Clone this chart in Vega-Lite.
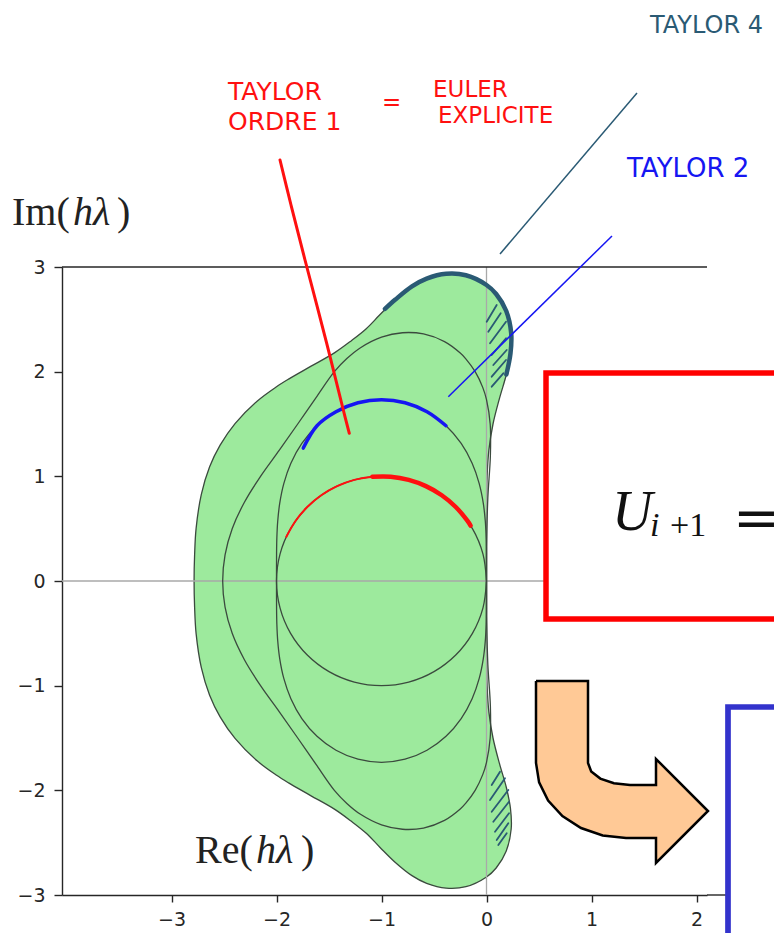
{
  "$schema": "https://vega.github.io/schema/vega-lite/v6.json",
  "width": 645,
  "height": 628,
  "autosize": {"type": "none"},
  "padding": {"left": 62, "top": 267, "right": 67, "bottom": 38},
  "background": "#ffffff",
  "config": {"view": {"stroke": null}},
  "datasets": {
    "taylor4": [
      {"k": 1, "x": 0, "y": 0}, {"k": 2, "x": 0.001, "y": 0.6}, {"k": 3, "x": 0.006, "y": 1.0}, {"k": 4, "x": 0.0225, "y": 1.25},
      {"k": 5, "x": 0.062, "y": 1.5}, {"k": 6, "x": 0.125, "y": 1.75}, {"k": 7, "x": 0.189, "y": 1.973}, {"k": 8, "x": 0.228, "y": 2.171},
      {"k": 9, "x": 0.235, "y": 2.37}, {"k": 10, "x": 0.187, "y": 2.582}, {"k": 11, "x": 0.092, "y": 2.742}, {"k": 12, "x": 0, "y": 2.828},
      {"k": 13, "x": -0.196, "y": 2.921}, {"k": 14, "x": -0.384, "y": 2.935}, {"k": 15, "x": -0.57, "y": 2.889}, {"k": 16, "x": -0.71, "y": 2.815},
      {"k": 17, "x": -0.868, "y": 2.689}, {"k": 18, "x": -1.016, "y": 2.543}, {"k": 19, "x": -1.148, "y": 2.408}, {"k": 20, "x": -1.29, "y": 2.294},
      {"k": 21, "x": -1.445, "y": 2.182}, {"k": 22, "x": -1.675, "y": 2.05}, {"k": 23, "x": -1.885, "y": 1.929}, {"k": 24, "x": -2.003, "y": 1.854},
      {"k": 25, "x": -2.185, "y": 1.718}, {"k": 26, "x": -2.395, "y": 1.504}, {"k": 27, "x": -2.537, "y": 1.298}, {"k": 28, "x": -2.637, "y": 1.091},
      {"k": 29, "x": -2.716, "y": 0.828}, {"k": 30, "x": -2.766, "y": 0.5}, {"k": 31, "x": -2.78, "y": 0.25}, {"k": 32, "x": -2.785, "y": 0},
      {"k": 33, "x": -2.78, "y": -0.25}, {"k": 34, "x": -2.766, "y": -0.5}, {"k": 35, "x": -2.716, "y": -0.828}, {"k": 36, "x": -2.637, "y": -1.091},
      {"k": 37, "x": -2.537, "y": -1.298}, {"k": 38, "x": -2.395, "y": -1.504}, {"k": 39, "x": -2.185, "y": -1.718}, {"k": 40, "x": -2.003, "y": -1.854},
      {"k": 41, "x": -1.885, "y": -1.929}, {"k": 42, "x": -1.675, "y": -2.05}, {"k": 43, "x": -1.445, "y": -2.182}, {"k": 44, "x": -1.29, "y": -2.294},
      {"k": 45, "x": -1.148, "y": -2.408}, {"k": 46, "x": -1.016, "y": -2.543}, {"k": 47, "x": -0.868, "y": -2.689}, {"k": 48, "x": -0.71, "y": -2.815},
      {"k": 49, "x": -0.57, "y": -2.889}, {"k": 50, "x": -0.384, "y": -2.935}, {"k": 51, "x": -0.196, "y": -2.921}, {"k": 52, "x": 0, "y": -2.828},
      {"k": 53, "x": 0.092, "y": -2.742}, {"k": 54, "x": 0.187, "y": -2.582}, {"k": 55, "x": 0.235, "y": -2.37}, {"k": 56, "x": 0.228, "y": -2.171},
      {"k": 57, "x": 0.189, "y": -1.973}, {"k": 58, "x": 0.125, "y": -1.75}, {"k": 59, "x": 0.062, "y": -1.5}, {"k": 60, "x": 0.0225, "y": -1.25},
      {"k": 61, "x": 0.006, "y": -1.0}, {"k": 62, "x": 0.001, "y": -0.6}, {"k": 63, "x": 0, "y": 0}
    ],
    "contours": [
      {"c": "t1", "k": 0, "x": 0, "y": 0}, {"c": "t1", "k": 1, "x": -0.0341, "y": 0.2588}, {"c": "t1", "k": 2, "x": -0.134, "y": 0.5},
      {"c": "t1", "k": 3, "x": -0.2929, "y": 0.7071}, {"c": "t1", "k": 4, "x": -0.5, "y": 0.866}, {"c": "t1", "k": 5, "x": -0.7412, "y": 0.9659},
      {"c": "t1", "k": 6, "x": -1, "y": 1}, {"c": "t1", "k": 7, "x": -1.2588, "y": 0.9659}, {"c": "t1", "k": 8, "x": -1.5, "y": 0.866},
      {"c": "t1", "k": 9, "x": -1.7071, "y": 0.7071}, {"c": "t1", "k": 10, "x": -1.866, "y": 0.5}, {"c": "t1", "k": 11, "x": -1.9659, "y": 0.2588},
      {"c": "t1", "k": 12, "x": -2, "y": 0}, {"c": "t1", "k": 13, "x": -1.9659, "y": -0.2588}, {"c": "t1", "k": 14, "x": -1.866, "y": -0.5},
      {"c": "t1", "k": 15, "x": -1.7071, "y": -0.7071}, {"c": "t1", "k": 16, "x": -1.5, "y": -0.866}, {"c": "t1", "k": 17, "x": -1.2588, "y": -0.9659},
      {"c": "t1", "k": 18, "x": -1, "y": -1}, {"c": "t1", "k": 19, "x": -0.7412, "y": -0.9659}, {"c": "t1", "k": 20, "x": -0.5, "y": -0.866},
      {"c": "t1", "k": 21, "x": -0.2929, "y": -0.7071}, {"c": "t1", "k": 22, "x": -0.134, "y": -0.5}, {"c": "t1", "k": 23, "x": -0.0341, "y": -0.2588},
      {"c": "t1", "k": 24, "x": 0, "y": 0},

      {"c": "t2", "k": 0, "x": 0, "y": 0}, {"c": "t2", "k": 1, "x": 0, "y": 0.1317}, {"c": "t2", "k": 2, "x": -0.0006, "y": 0.2678},
      {"c": "t2", "k": 3, "x": -0.0033, "y": 0.4128}, {"c": "t2", "k": 4, "x": -0.0115, "y": 0.5707}, {"c": "t2", "k": 5, "x": -0.0308, "y": 0.7437},
      {"c": "t2", "k": 6, "x": -0.0694, "y": 0.9306}, {"c": "t2", "k": 7, "x": -0.1369, "y": 1.1248}, {"c": "t2", "k": 8, "x": -0.2412, "y": 1.3142},
      {"c": "t2", "k": 9, "x": -0.3856, "y": 1.4834}, {"c": "t2", "k": 10, "x": -0.5667, "y": 1.617}, {"c": "t2", "k": 11, "x": -0.7758, "y": 1.7026},
      {"c": "t2", "k": 12, "x": -1, "y": 1.7321}, {"c": "t2", "k": 13, "x": -1.2242, "y": 1.7026}, {"c": "t2", "k": 14, "x": -1.4333, "y": 1.617},
      {"c": "t2", "k": 15, "x": -1.6144, "y": 1.4834}, {"c": "t2", "k": 16, "x": -1.7588, "y": 1.3142}, {"c": "t2", "k": 17, "x": -1.8631, "y": 1.1248},
      {"c": "t2", "k": 18, "x": -1.9306, "y": 0.9306}, {"c": "t2", "k": 19, "x": -1.9692, "y": 0.7437}, {"c": "t2", "k": 20, "x": -1.9885, "y": 0.5707},
      {"c": "t2", "k": 21, "x": -1.9967, "y": 0.4128}, {"c": "t2", "k": 22, "x": -1.9994, "y": 0.2678}, {"c": "t2", "k": 23, "x": -2, "y": 0.1317},
      {"c": "t2", "k": 24, "x": -2, "y": 0}, {"c": "t2", "k": 25, "x": -2, "y": -0.1317}, {"c": "t2", "k": 26, "x": -1.9994, "y": -0.2678},
      {"c": "t2", "k": 27, "x": -1.9967, "y": -0.4128}, {"c": "t2", "k": 28, "x": -1.9885, "y": -0.5707}, {"c": "t2", "k": 29, "x": -1.9692, "y": -0.7437},
      {"c": "t2", "k": 30, "x": -1.9306, "y": -0.9306}, {"c": "t2", "k": 31, "x": -1.8631, "y": -1.1248}, {"c": "t2", "k": 32, "x": -1.7588, "y": -1.3142},
      {"c": "t2", "k": 33, "x": -1.6144, "y": -1.4834}, {"c": "t2", "k": 34, "x": -1.4333, "y": -1.617}, {"c": "t2", "k": 35, "x": -1.2242, "y": -1.7026},
      {"c": "t2", "k": 36, "x": -1, "y": -1.7321}, {"c": "t2", "k": 37, "x": -0.7758, "y": -1.7026}, {"c": "t2", "k": 38, "x": -0.5667, "y": -1.617},
      {"c": "t2", "k": 39, "x": -0.3856, "y": -1.4834}, {"c": "t2", "k": 40, "x": -0.2412, "y": -1.3142}, {"c": "t2", "k": 41, "x": -0.1369, "y": -1.1248},
      {"c": "t2", "k": 42, "x": -0.0694, "y": -0.9306}, {"c": "t2", "k": 43, "x": -0.0308, "y": -0.7437}, {"c": "t2", "k": 44, "x": -0.0115, "y": -0.5707},
      {"c": "t2", "k": 45, "x": -0.0033, "y": -0.4128}, {"c": "t2", "k": 46, "x": -0.0006, "y": -0.2678}, {"c": "t2", "k": 47, "x": 0, "y": -0.1317},
      {"c": "t2", "k": 48, "x": 0, "y": 0},

      {"c": "t3", "k": 0, "x": 0, "y": 0}, {"c": "t3", "k": 1, "x": 0.002, "y": 0.4}, {"c": "t3", "k": 2, "x": 0.013, "y": 0.8},
      {"c": "t3", "k": 3, "x": 0.037, "y": 1.2}, {"c": "t3", "k": 4, "x": 0.035, "y": 1.5}, {"c": "t3", "k": 5, "x": 0, "y": 1.732},
      {"c": "t3", "k": 6, "x": -0.036, "y": 1.85}, {"c": "t3", "k": 7, "x": -0.108, "y": 2.0}, {"c": "t3", "k": 8, "x": -0.197, "y": 2.123},
      {"c": "t3", "k": 9, "x": -0.25, "y": 2.178}, {"c": "t3", "k": 10, "x": -0.4, "y": 2.287}, {"c": "t3", "k": 11, "x": -0.6, "y": 2.36},
      {"c": "t3", "k": 12, "x": -0.8, "y": 2.372}, {"c": "t3", "k": 13, "x": -1.0, "y": 2.33}, {"c": "t3", "k": 14, "x": -1.2, "y": 2.229},
      {"c": "t3", "k": 15, "x": -1.33, "y": 2.125}, {"c": "t3", "k": 16, "x": -1.449, "y": 2.0}, {"c": "t3", "k": 17, "x": -1.625, "y": 1.75},
      {"c": "t3", "k": 18, "x": -1.798, "y": 1.5}, {"c": "t3", "k": 19, "x": -1.973, "y": 1.25}, {"c": "t3", "k": 20, "x": -2.152, "y": 1.0},
      {"c": "t3", "k": 21, "x": -2.307, "y": 0.75}, {"c": "t3", "k": 22, "x": -2.422, "y": 0.5}, {"c": "t3", "k": 23, "x": -2.49, "y": 0.25},
      {"c": "t3", "k": 24, "x": -2.5127, "y": 0}, {"c": "t3", "k": 25, "x": -2.49, "y": -0.25}, {"c": "t3", "k": 26, "x": -2.422, "y": -0.5},
      {"c": "t3", "k": 27, "x": -2.307, "y": -0.75}, {"c": "t3", "k": 28, "x": -2.152, "y": -1.0}, {"c": "t3", "k": 29, "x": -1.973, "y": -1.25},
      {"c": "t3", "k": 30, "x": -1.798, "y": -1.5}, {"c": "t3", "k": 31, "x": -1.625, "y": -1.75}, {"c": "t3", "k": 32, "x": -1.449, "y": -2.0},
      {"c": "t3", "k": 33, "x": -1.33, "y": -2.125}, {"c": "t3", "k": 34, "x": -1.2, "y": -2.229}, {"c": "t3", "k": 35, "x": -1.0, "y": -2.33},
      {"c": "t3", "k": 36, "x": -0.8, "y": -2.372}, {"c": "t3", "k": 37, "x": -0.6, "y": -2.36}, {"c": "t3", "k": 38, "x": -0.4, "y": -2.287},
      {"c": "t3", "k": 39, "x": -0.25, "y": -2.178}, {"c": "t3", "k": 40, "x": -0.197, "y": -2.123}, {"c": "t3", "k": 41, "x": -0.108, "y": -2.0},
      {"c": "t3", "k": 42, "x": -0.036, "y": -1.85}, {"c": "t3", "k": 43, "x": 0, "y": -1.732}, {"c": "t3", "k": 44, "x": 0.035, "y": -1.5},
      {"c": "t3", "k": 45, "x": 0.037, "y": -1.2}, {"c": "t3", "k": 46, "x": 0.013, "y": -0.8}, {"c": "t3", "k": 47, "x": 0.002, "y": -0.4},
      {"c": "t3", "k": 48, "x": 0, "y": 0}
    ],
    "guides": [
      {"x": 0, "y": -3, "x2": 0, "y2": 3},
      {"x": -4.043, "y": 0, "x2": 2.1, "y2": 0}
    ],
    "spines": [
      {"x": -4.043, "y": 3, "x2": 2.1, "y2": 3},
      {"x": 2.1, "y": -3, "x2": 2.4, "y2": -3}
    ],
    "strokes": [
      {"s": "red-thin", "k": 0, "x": -1.9063, "y": 0.4226}, {"s": "red-thin", "k": 1, "x": -1.8192, "y": 0.5736},
      {"s": "red-thin", "k": 2, "x": -1.7071, "y": 0.7071}, {"s": "red-thin", "k": 3, "x": -1.5736, "y": 0.8192},
      {"s": "red-thin", "k": 4, "x": -1.4226, "y": 0.9063}, {"s": "red-thin", "k": 5, "x": -1.2588, "y": 0.9659},
      {"s": "red-thin", "k": 6, "x": -1.0872, "y": 0.9962},
      {"s": "red-thick", "k": 0, "x": -1.0872, "y": 0.9962}, {"s": "red-thick", "k": 1, "x": -0.9128, "y": 0.9962},
      {"s": "red-thick", "k": 2, "x": -0.7412, "y": 0.9659}, {"s": "red-thick", "k": 3, "x": -0.5774, "y": 0.9063},
      {"s": "red-thick", "k": 4, "x": -0.4264, "y": 0.8192}, {"s": "red-thick", "k": 5, "x": -0.2929, "y": 0.7071},
      {"s": "red-thick", "k": 6, "x": -0.1808, "y": 0.5736}, {"s": "red-thick", "k": 7, "x": -0.152, "y": 0.5299},
      {"s": "blue", "k": 0, "x": -0.3856, "y": 1.4834}, {"s": "blue", "k": 1, "x": -0.5667, "y": 1.617},
      {"s": "blue", "k": 2, "x": -0.7758, "y": 1.7026}, {"s": "blue", "k": 3, "x": -1, "y": 1.7321},
      {"s": "blue", "k": 4, "x": -1.2242, "y": 1.7026}, {"s": "blue", "k": 5, "x": -1.4333, "y": 1.617},
      {"s": "blue", "k": 6, "x": -1.6144, "y": 1.4834}, {"s": "blue", "k": 7, "x": -1.745, "y": 1.27},
      {"s": "teal", "k": 0, "x": 0.189, "y": 1.973}, {"s": "teal", "k": 1, "x": 0.228, "y": 2.171},
      {"s": "teal", "k": 2, "x": 0.235, "y": 2.37}, {"s": "teal", "k": 3, "x": 0.187, "y": 2.582},
      {"s": "teal", "k": 4, "x": 0.092, "y": 2.742}, {"s": "teal", "k": 5, "x": 0, "y": 2.828},
      {"s": "teal", "k": 6, "x": -0.196, "y": 2.921}, {"s": "teal", "k": 7, "x": -0.384, "y": 2.935},
      {"s": "teal", "k": 8, "x": -0.57, "y": 2.889}, {"s": "teal", "k": 9, "x": -0.71, "y": 2.815},
      {"s": "teal", "k": 10, "x": -0.868, "y": 2.689}, {"s": "teal", "k": 11, "x": -0.967, "y": 2.6},
      {"s": "pointer", "k": 0, "x": -1.9667, "y": 4.0223}, {"s": "pointer", "k": 1, "x": -1.8619, "y": 3.5923},
      {"s": "pointer", "k": 2, "x": -1.7286, "y": 3.0669}, {"s": "pointer", "k": 3, "x": -1.5219, "y": 2.271},
      {"s": "pointer", "k": 4, "x": -1.3638, "y": 1.6338}, {"s": "pointer", "k": 5, "x": -1.3067, "y": 1.4111}
    ],
    "hatch": [
      {"x": 0.0019, "y": 2.4774, "x2": 0.0971, "y2": 2.6366},
      {"x": 0.0171, "y": 2.3819, "x2": 0.1352, "y2": 2.5577},
      {"x": 0.0333, "y": 2.271, "x2": 0.1857, "y2": 2.4774},
      {"x": 0.0495, "y": 2.1592, "x2": 0.1857, "y2": 2.3188},
      {"x": 0.0648, "y": 2.0637, "x2": 0.1924, "y2": 2.207},
      {"x": 0.0495, "y": 1.9519, "x2": 0.1857, "y2": 2.1114},
      {"x": 0.0495, "y": 1.8564, "x2": 0.16, "y2": 1.9844},
      {"x": 0.0495, "y": -1.949, "x2": 0.1286, "y2": -1.8219},
      {"x": 0.0333, "y": -2.0924, "x2": 0.1762, "y2": -1.885},
      {"x": 0.0495, "y": -2.2041, "x2": 0.2076, "y2": -1.9968},
      {"x": 0.0648, "y": -2.2997, "x2": 0.2143, "y2": -2.1086},
      {"x": 0.081, "y": -2.3952, "x2": 0.2143, "y2": -2.2194},
      {"x": 0.0971, "y": -2.4745, "x2": 0.2076, "y2": -2.3149},
      {"x": 0.1124, "y": -2.5223, "x2": 0.1924, "y2": -2.4105}
    ],
    "pointers": [
      {"s": "teal", "x": 1.4333, "y": 4.6624, "x2": 0.1286, "y2": 3.1242},
      {"s": "blue", "x": 1.1952, "y": 3.2962, "x2": -0.3638, "y2": 1.7608}
    ],
    "arrow": [
      {"k": 1, "x": 0.4714, "y": -0.9554}, {"k": 2, "x": 0.9667, "y": -0.9554}, {"k": 3, "x": 0.9667, "y": -1.7389},
      {"k": 4, "x": 0.9971, "y": -1.8191}, {"k": 5, "x": 1.0838, "y": -1.8879}, {"k": 6, "x": 1.2133, "y": -1.9328},
      {"k": 7, "x": 1.3667, "y": -1.949}, {"k": 8, "x": 1.6143, "y": -1.949}, {"k": 9, "x": 1.6143, "y": -1.7006},
      {"k": 10, "x": 2.1095, "y": -2.1975}, {"k": 11, "x": 1.6143, "y": -2.6943}, {"k": 12, "x": 1.6143, "y": -2.4554},
      {"k": 13, "x": 1.3286, "y": -2.4554}, {"k": 14, "x": 1.1067, "y": -2.4306}, {"k": 15, "x": 0.9, "y": -2.3599},
      {"k": 16, "x": 0.7229, "y": -2.2452}, {"k": 17, "x": 0.5867, "y": -2.0971}, {"k": 18, "x": 0.501, "y": -1.9242},
      {"k": 19, "x": 0.4714, "y": -1.7389}, {"k": 20, "x": 0.4714, "y": -0.9554}
    ],
    "labels": [
      {"g": "math", "t": "U", "x": 1.1952, "y": 0.4873},
      {"g": "sub-i", "t": "i", "x": 1.5571, "y": 0.4252},
      {"g": "sub", "t": "+1", "x": 1.7476, "y": 0.4252},
      {"g": "eq", "t": "=", "x": 2.3476, "y": 0.4204},
      {"g": "ax", "t": "Im(", "x": -4.519, "y": 3.4013},
      {"g": "axi", "t": "hλ", "x": -3.9381, "y": 3.4013},
      {"g": "ax", "t": ")", "x": -3.519, "y": 3.4013},
      {"g": "ax", "t": "Re(", "x": -2.776, "y": -2.6943},
      {"g": "axi", "t": "hλ", "x": -2.1952, "y": -2.6943},
      {"g": "ax", "t": ")", "x": -1.7667, "y": -2.6943},
      {"g": "hw-teal", "t": "TAYLOR 4", "x": 1.5571, "y": 5.2356},
      {"g": "hw-red", "t": "TAYLOR", "x": -2.4619, "y": 4.5955},
      {"g": "hw-red", "t": "ORDRE 1", "x": -2.4619, "y": 4.3089},
      {"g": "hw-red-s", "t": "=", "x": -0.9952, "y": 4.5},
      {"g": "hw-red-s", "t": "EULER", "x": -0.5095, "y": 4.6242},
      {"g": "hw-red-s", "t": "EXPLICITE", "x": -0.4619, "y": 4.3758},
      {"g": "hw-blue", "t": "TAYLOR 2", "x": 1.3381, "y": 3.8599}
    ]
  },
  "encoding": {
    "x": {
      "field": "x", "type": "quantitative",
      "scale": {"domain": [-4.043, 2.1], "nice": false, "zero": false},
      "axis": {
        "values": [-3, -2, -1, 0, 1, 2], "format": "d", "title": null, "grid": false,
        "domainColor": "#262626", "domainWidth": 1.4, "tickColor": "#262626", "tickWidth": 1.4,
        "tickSize": 7, "labelPadding": 8, "labelFont": "DejaVu Sans", "labelFontSize": 19, "labelColor": "#262626"
      }
    },
    "y": {
      "field": "y", "type": "quantitative",
      "scale": {"domain": [-3, 3], "nice": false, "zero": false},
      "axis": {
        "values": [-3, -2, -1, 0, 1, 2, 3], "format": "d", "title": null, "grid": false,
        "domainColor": "#262626", "domainWidth": 1.4, "tickColor": "#262626", "tickWidth": 1.4,
        "tickSize": 8, "labelPadding": 9, "labelFont": "DejaVu Sans", "labelFontSize": 19, "labelColor": "#262626"
      }
    }
  },
  "layer": [
    {
      "data": {"name": "taylor4"},
      "mark": {"type": "line", "fill": "#9dea9d", "stroke": "#3b4a3e", "strokeWidth": 1.3, "interpolate": "catmull-rom"},
      "encoding": {"order": {"field": "k", "type": "quantitative"}}
    },
    {
      "data": {"name": "guides"},
      "mark": {"type": "rule", "stroke": "#a9a9a9", "strokeWidth": 1.3},
      "encoding": {"x2": {"field": "x2"}, "y2": {"field": "y2"}}
    },
    {
      "data": {"name": "contours"},
      "mark": {"type": "line", "stroke": "#3b4a3e", "strokeWidth": 1.3, "interpolate": "catmull-rom"},
      "encoding": {"detail": {"field": "c"}, "order": {"field": "k", "type": "quantitative"}}
    },
    {
      "data": {"name": "spines"},
      "mark": {"type": "rule", "stroke": "#262626", "strokeWidth": 1.4},
      "encoding": {"x2": {"field": "x2"}, "y2": {"field": "y2"}}
    },
    {
      "data": {"name": "hatch"},
      "mark": {"type": "rule", "stroke": "#2a5a74", "strokeWidth": 1.8, "strokeCap": "round"},
      "encoding": {"x2": {"field": "x2"}, "y2": {"field": "y2"}}
    },
    {
      "data": {"name": "strokes"},
      "transform": [{"filter": "datum.s === 'teal'"}],
      "mark": {"type": "line", "stroke": "#2a5a74", "strokeWidth": 4.5, "strokeCap": "round", "interpolate": "catmull-rom"},
      "encoding": {"order": {"field": "k", "type": "quantitative"}}
    },
    {
      "data": {"name": "strokes"},
      "transform": [{"filter": "datum.s === 'blue'"}],
      "mark": {"type": "line", "stroke": "#1616f2", "strokeWidth": 3.5, "strokeCap": "round", "interpolate": "catmull-rom"},
      "encoding": {"order": {"field": "k", "type": "quantitative"}}
    },
    {
      "data": {"name": "strokes"},
      "transform": [{"filter": "datum.s === 'red-thin'"}],
      "mark": {"type": "line", "stroke": "#ff1010", "strokeWidth": 2, "strokeCap": "round", "interpolate": "catmull-rom"},
      "encoding": {"order": {"field": "k", "type": "quantitative"}}
    },
    {
      "data": {"name": "strokes"},
      "transform": [{"filter": "datum.s === 'red-thick'"}],
      "mark": {"type": "line", "stroke": "#ff1010", "strokeWidth": 4.5, "strokeCap": "round", "interpolate": "catmull-rom"},
      "encoding": {"order": {"field": "k", "type": "quantitative"}}
    },
    {
      "data": {"name": "strokes"},
      "transform": [{"filter": "datum.s === 'pointer'"}],
      "mark": {"type": "line", "stroke": "#ff1010", "strokeWidth": 3, "strokeCap": "round", "interpolate": "catmull-rom"},
      "encoding": {"order": {"field": "k", "type": "quantitative"}}
    },
    {
      "data": {"name": "pointers"},
      "transform": [{"filter": "datum.s === 'teal'"}],
      "mark": {"type": "rule", "stroke": "#2a5a74", "strokeWidth": 1.5},
      "encoding": {"x2": {"field": "x2"}, "y2": {"field": "y2"}}
    },
    {
      "data": {"name": "pointers"},
      "transform": [{"filter": "datum.s === 'blue'"}],
      "mark": {"type": "rule", "stroke": "#1616f2", "strokeWidth": 1.5},
      "encoding": {"x2": {"field": "x2"}, "y2": {"field": "y2"}}
    },
    {
      "data": {"values": [{"x": 0.5667, "x2": 3.5, "y": 1.9873, "y2": -0.3631}]},
      "mark": {"type": "rect", "fill": "#ffffff", "stroke": "#ff0000", "strokeWidth": 5.5},
      "encoding": {"x2": {"field": "x2"}, "y2": {"field": "y2"}}
    },
    {
      "data": {"name": "arrow"},
      "mark": {"type": "line", "fill": "#ffc996", "stroke": "#000000", "strokeWidth": 2.5, "strokeJoin": "miter", "interpolate": "linear"},
      "encoding": {"order": {"field": "k", "type": "quantitative"}}
    },
    {
      "data": {"values": [{"x": 2.3, "x2": 5, "y": -1.2038, "y2": -6}]},
      "mark": {"type": "rect", "fill": "#ffffff", "stroke": "#3333cc", "strokeWidth": 5.7},
      "encoding": {"x2": {"field": "x2"}, "y2": {"field": "y2"}}
    },
    {
      "data": {"name": "labels"},
      "transform": [{"filter": "datum.g === 'math'"}],
      "mark": {"type": "text", "align": "left", "baseline": "alphabetic", "font": "Liberation Serif", "fontStyle": "italic", "fontSize": 56, "color": "#111111"},
      "encoding": {"text": {"field": "t"}}
    },
    {
      "data": {"name": "labels"},
      "transform": [{"filter": "datum.g === 'sub-i'"}],
      "mark": {"type": "text", "align": "left", "baseline": "alphabetic", "font": "Liberation Serif", "fontStyle": "italic", "fontSize": 34, "color": "#111111"},
      "encoding": {"text": {"field": "t"}}
    },
    {
      "data": {"name": "labels"},
      "transform": [{"filter": "datum.g === 'sub'"}],
      "mark": {"type": "text", "align": "left", "baseline": "alphabetic", "font": "Liberation Serif", "fontSize": 34, "color": "#111111"},
      "encoding": {"text": {"field": "t"}}
    },
    {
      "data": {"name": "labels"},
      "transform": [{"filter": "datum.g === 'eq'"}],
      "mark": {"type": "text", "align": "left", "baseline": "alphabetic", "font": "DejaVu Serif", "fontSize": 56, "color": "#111111"},
      "encoding": {"text": {"field": "t"}}
    },
    {
      "data": {"name": "labels"},
      "transform": [{"filter": "datum.g === 'ax'"}],
      "mark": {"type": "text", "align": "left", "baseline": "alphabetic", "font": "Liberation Serif", "fontSize": 40, "color": "#222222"},
      "encoding": {"text": {"field": "t"}}
    },
    {
      "data": {"name": "labels"},
      "transform": [{"filter": "datum.g === 'axi'"}],
      "mark": {"type": "text", "align": "left", "baseline": "alphabetic", "font": "Liberation Serif", "fontStyle": "italic", "fontSize": 40, "color": "#222222"},
      "encoding": {"text": {"field": "t"}}
    },
    {
      "data": {"name": "labels"},
      "transform": [{"filter": "datum.g === 'hw-teal'"}],
      "mark": {"type": "text", "align": "left", "baseline": "alphabetic", "font": "DejaVu Sans", "fontSize": 24, "color": "#2a5a74"},
      "encoding": {"text": {"field": "t"}}
    },
    {
      "data": {"name": "labels"},
      "transform": [{"filter": "datum.g === 'hw-red'"}],
      "mark": {"type": "text", "align": "left", "baseline": "alphabetic", "font": "DejaVu Sans", "fontSize": 25, "color": "#ff1010"},
      "encoding": {"text": {"field": "t"}}
    },
    {
      "data": {"name": "labels"},
      "transform": [{"filter": "datum.g === 'hw-red-s'"}],
      "mark": {"type": "text", "align": "left", "baseline": "alphabetic", "font": "DejaVu Sans", "fontSize": 23, "color": "#ff1010"},
      "encoding": {"text": {"field": "t"}}
    },
    {
      "data": {"name": "labels"},
      "transform": [{"filter": "datum.g === 'hw-blue'"}],
      "mark": {"type": "text", "align": "left", "baseline": "alphabetic", "font": "DejaVu Sans", "fontSize": 26, "color": "#1616f2"},
      "encoding": {"text": {"field": "t"}}
    }
  ]
}
